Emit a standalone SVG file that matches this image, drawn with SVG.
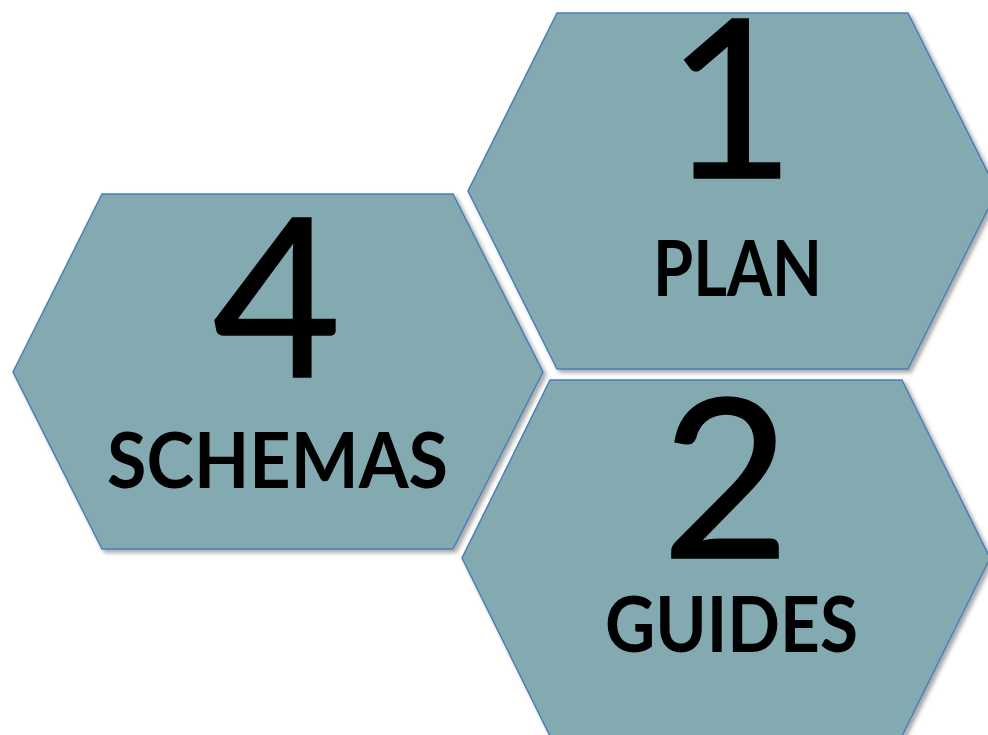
<svg xmlns="http://www.w3.org/2000/svg" width="988" height="735" viewBox="0 0 988 735">
<defs>
<filter id="sh" x="-10%" y="-10%" width="120%" height="120%">
<feDropShadow dx="3" dy="3" stdDeviation="2" flood-color="#000" flood-opacity="0.35"/>
</filter>
</defs>
<style>
.hex{fill:#84AAB1;stroke:#4A7EBB;stroke-width:1.5;filter:url(#sh)}
.num{font-family:Lato,"Open Sans","Liberation Sans",sans-serif;font-weight:400;fill:#000;text-anchor:middle;stroke:#000;stroke-width:1.5}
.lbl{font-family:Lato,"Open Sans","Liberation Sans",sans-serif;font-weight:700;fill:#000;text-anchor:middle;font-size:77px}
</style>
<rect width="988" height="735" fill="#fff"/>
<g id="node1">
<polygon class="hex" points="557,13 908,13 997,191 908,369 557,369 468,191"/>
<text class="num" x="731" y="178" font-size="222">1</text>
<text class="lbl" x="737.5" y="296" textLength="169" lengthAdjust="spacingAndGlyphs">PLAN</text>
</g>
<g id="node4">
<polygon class="hex" points="102,194 453,194 543,372 453,549 102,549 13,372"/>
<text class="num" x="277" y="377" font-size="222">4</text>
<text class="lbl" x="277.5" y="488" textLength="341" lengthAdjust="spacingAndGlyphs">SCHEMAS</text>
</g>
<g id="node2">
<polygon class="hex" points="550,380 902,380 990,558 902,736 550,736 462,558"/>
<text class="num" x="726" y="558" font-size="222">2</text>
<text class="lbl" x="731.5" y="652" textLength="253" lengthAdjust="spacingAndGlyphs">GUIDES</text>
</g>
<g id="connectors"/>
</svg>
